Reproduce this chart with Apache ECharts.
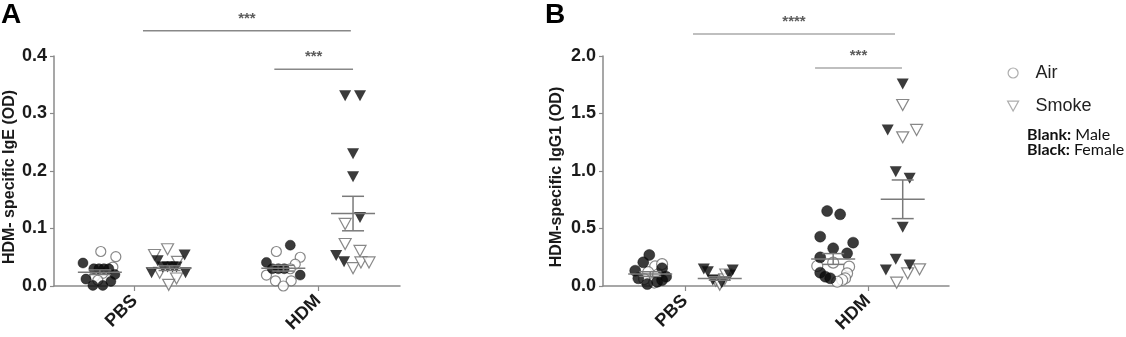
<!DOCTYPE html>
<html><head><meta charset="utf-8">
<script src="https://cdn.jsdelivr.net/npm/echarts@6/dist/echarts.min.js"></script>
<style>html,body{margin:0;padding:0;background:#fff}#c{width:1126px;height:337px}</style>
</head><body><div id="c"></div><script>
// ---------------- DATA ----------------
const categories = ['PBS', 'HDM'];
const treatments = ['Air', 'Smoke'];
// each point: [OD value, horizontal jitter within its column (x-axis units)]
// Panel A: HDM-specific IgE
const igePbsAirMale = [[0.060,0.005],[0.051,0.087],[0.033,0.071],[0.017,-0.027],[0.022,0.016],[0.010,-0.011]];
const igePbsAirFemale = [[0.040,-0.092],[0.030,-0.033],[0.030,-0.005],[0.030,0.022],[0.030,0.049],[0.012,-0.076],[0.020,0.082],[0.001,-0.038],[0.001,0.016],[0.008,0.060]];
const igePbsSmokeMale = [[0.054,-0.082],[0.064,-0.011],[0.042,0.043],[0.023,-0.054],[0.013,0.038],[0.002,-0.005]];
const igePbsSmokeFemale = [[0.054,0.082],[0.044,-0.065],[0.033,-0.038],[0.033,-0.011],[0.033,0.016],[0.033,0.038],[0.023,-0.098],[0.023,0.087]];
const igeHdmAirMale = [[0.060,-0.038],[0.050,0.092],[0.038,0.065],[0.030,0.038],[0.019,-0.092],[0.009,-0.043],[0.009,0.043],[0.000,0]];
const igeHdmAirFemale = [[0.071,0.038],[0.041,-0.092],[0.030,-0.060],[0.030,-0.027],[0.030,0.005],[0.019,0.092]];
const igeHdmSmokeMale = [[0.108,-0.043],[0.073,-0.043],[0.061,0.038],[0.031,0],[0.041,0.043],[0.041,0.087]];
const igeHdmSmokeFemale = [[0.331,-0.043],[0.331,0.038],[0.230,0],[0.190,0],[0.119,0.038],[0.053,-0.092],[0.042,-0.049]];
// mean and SEM: PBS-Air, PBS-Smoke, HDM-Air, HDM-Smoke
const igeMean = [0.024, 0.031, 0.031, 0.126];
const igeSem = [0.004, 0.004, 0.005, 0.030];
const igeTicks = [0, 0.1, 0.2, 0.3, 0.4];
// significance bars: [from x, to x, y, label]
const igeSig = [[1.045, 2.178, 0.444, '***'], [1.761, 2.19, 0.377, '***']];

// Panel B: HDM-specific IgG1
const iggPbsAirMale = [[0.170,0.027],[0.120,-0.011],[0.100,0.043],[0.060,-0.033],[0.030,0.022],[0.190,0.065]];
const iggPbsAirFemale = [[0.270,-0.005],[0.206,-0.038],[0.133,-0.082],[0.154,0.065],[0.067,-0.065],[0.017,-0.016],[0.037,0.038],[0.081,0.087],[0.052,0.065]];
const iggPbsSmokeMale = [[0.046,-0.022],[0.058,0.027],[0.012,0],[0.100,0.033]];
const iggPbsSmokeFemale = [[0.148,-0.087],[0.125,-0.065],[0.052,-0.038],[0.029,0.011],[0.139,0.071],[0.096,0.054]];
const iggHdmAirMale = [[0.174,-0.087],[0.203,0],[0.168,0.087],[0.110,0.076],[0.067,0.065],[0.052,0.049],[0.037,0.022]];
const iggHdmAirFemale = [[0.652,-0.033],[0.623,0.038],[0.429,-0.071],[0.328,0],[0.377,0.109],[0.249,-0.071],[0.284,0.076],[0.116,-0.071],[0.081,-0.043],[0.067,-0.016]];
const iggHdmSmokeMale = [[1.574,0],[1.293,0],[1.357,0.076],[0.110,0.027],[0.145,0.092],[0.029,-0.033]];
const iggHdmSmokeFemale = [[1.757,0],[1.357,-0.082],[0.994,-0.038],[0.936,0.038],[0.510,0],[0.232,-0.038],[0.139,-0.092],[0.183,0.038]];
const iggMean = [0.104, 0.065, 0.235, 0.754];
const iggSem = [0.020, 0.015, 0.047, 0.168];
const iggTicks = [0, 0.5, 1.0, 1.5, 2.0];
const iggSig = [[1.044, 2.148, 2.191, '****'], [1.711, 2.186, 1.896, '***']];

// ---------------- LAYOUT / STYLE ----------------
const FONT = '"Liberation Sans", Arial, sans-serif';
const H = 337, PT = 56, PB = 51;
const groupPos = [1, 2];
const treatOffset = {Air: -0.19, Smoke: 0.19};
const AXIS = '#8a8a8a';
const DOWN_TRI = 'path://M0,0 L10,0 L5,9 Z';

const panels = [
  {left: 54, right: 726, xmin: 0.56, xmax: 2.446, ticks: igeTicks, name: 'HDM- specific IgE (OD)', nameGap: 36,
   sig: igeSig, sigColor: '#888', mean: igeMean, sem: igeSem, circ: 10, tri: 12,
   sets: {Air: [[igePbsAirMale, igePbsAirFemale], [igeHdmAirMale, igeHdmAirFemale]],
          Smoke: [[igePbsSmokeMale, igePbsSmokeFemale], [igeHdmSmokeMale, igeHdmSmokeFemale]]}},
  {left: 603, right: 177, xmin: 0.552, xmax: 2.443, ticks: iggTicks, name: 'HDM-specific IgG1 (OD)', nameGap: 38,
   sig: iggSig, sigColor: '#aaa', mean: iggMean, sem: iggSem, circ: 11, tri: 12,
   sets: {Air: [[iggPbsAirMale, iggPbsAirFemale], [iggHdmAirMale, iggHdmAirFemale]],
          Smoke: [[iggPbsSmokeMale, iggPbsSmokeFemale], [iggHdmSmokeMale, iggHdmSmokeFemale]]}}
];

function pts(treat, sexIdx, sets) {
  const out = [];
  sets[treat].forEach((g, gi) => {
    g[sexIdx].forEach(([v, j]) => out.push([groupPos[gi] + treatOffset[treat] + j, v]));
  });
  return out;
}

function meanSemRender(params, api) {
  const x = api.value(0), m = api.value(1), s = api.value(2);
  const c = api.coord([x, m]);
  const up = api.coord([x, m + s]);
  const lo = api.coord([x, m - s]);
  const style = {stroke: '#7a7a7a', lineWidth: 1.5, fill: null};
  return {type: 'group', children: [
    {type: 'line', shape: {x1: c[0] - 22, y1: c[1], x2: c[0] + 22, y2: c[1]}, style},
    {type: 'line', shape: {x1: up[0], y1: up[1], x2: lo[0], y2: lo[1]}, style},
    {type: 'line', shape: {x1: up[0] - 11, y1: up[1], x2: up[0] + 11, y2: up[1]}, style},
    {type: 'line', shape: {x1: lo[0] - 11, y1: lo[1], x2: lo[0] + 11, y2: lo[1]}, style}
  ]};
}

const grid = [], xAxis = [], yAxis = [], series = [];
panels.forEach((p, i) => {
  const yMax = p.ticks[p.ticks.length - 1];
  grid.push({left: p.left, right: p.right, top: PT, bottom: PB});
  grid.push({left: p.left, right: p.right, top: 0, bottom: PB});
  xAxis.push({gridIndex: 2 * i, type: 'value', min: p.xmin, max: p.xmax,
    axisLine: {show: true, lineStyle: {color: AXIS, width: 1.5}},
    axisTick: {show: true, customValues: groupPos, length: 5, lineStyle: {color: AXIS, width: 1.2}},
    axisLabel: {show: true, customValues: groupPos, rotate: 45, margin: 12,
      formatter: v => categories[groupPos.indexOf(Math.round(v))] || '',
      fontFamily: FONT, fontWeight: 'bold', fontSize: 18, color: '#1a1a1a'},
    splitLine: {show: false}});
  xAxis.push({gridIndex: 2 * i + 1, type: 'value', min: p.xmin, max: p.xmax, show: false});
  yAxis.push({gridIndex: 2 * i, type: 'value', min: p.ticks[0], max: yMax, interval: p.ticks[1] - p.ticks[0],
    name: p.name, nameLocation: 'middle', nameGap: p.nameGap,
    nameTextStyle: {fontFamily: FONT, fontWeight: 'bold', fontSize: 16, color: '#1a1a1a', padding: [0, 12, 0, 0]},
    axisLine: {show: true, lineStyle: {color: AXIS, width: 1.5}},
    axisTick: {show: true, length: 4, lineStyle: {color: AXIS, width: 1.2}},
    axisLabel: {formatter: v => v.toFixed(1), margin: 7, fontFamily: FONT, fontWeight: 'bold', fontSize: 18, color: '#1a1a1a'},
    splitLine: {show: false}});
  yAxis.push({gridIndex: 2 * i + 1, type: 'value', min: 0, max: yMax * (H - PB) / (H - PB - PT), show: false});
  const xi = 2 * i, yi = 2 * i;
  // open (male) markers
  series.push({type: 'scatter', name: 'Air', xAxisIndex: xi, yAxisIndex: yi, data: pts('Air', 0, p.sets),
    symbol: 'circle', symbolSize: p.circ, itemStyle: {color: '#fff', borderColor: '#6a6a6a', borderWidth: 1.2}, z: 2});
  series.push({type: 'scatter', name: 'Smoke', xAxisIndex: xi, yAxisIndex: yi, data: pts('Smoke', 0, p.sets),
    symbol: 'triangle', symbolRotate: 180, symbolSize: [p.tri, p.tri - 1], itemStyle: {color: '#fff', borderColor: '#6a6a6a', borderWidth: 1.2}, z: 2});
  // filled (female) markers
  series.push({type: 'scatter', name: 'Air female', xAxisIndex: xi, yAxisIndex: yi, data: pts('Air', 1, p.sets),
    symbol: 'circle', symbolSize: p.circ, itemStyle: {color: '#0a0a0a', borderColor: '#000', borderWidth: 0.5}, z: 3});
  series.push({type: 'scatter', name: 'Smoke female', xAxisIndex: xi, yAxisIndex: yi, data: pts('Smoke', 1, p.sets),
    symbol: 'triangle', symbolRotate: 180, symbolSize: [p.tri, p.tri - 1], itemStyle: {color: '#0a0a0a'}, z: 3});
  // mean +/- SEM
  const ms = [];
  groupPos.forEach((g, gi) => treatments.forEach((t, ti) => {
    const k = gi * 2 + ti;
    ms.push([g + treatOffset[t], p.mean[k], p.sem[k]]);
  }));
  series.push({type: 'custom', name: 'meanSem', xAxisIndex: xi, yAxisIndex: yi, data: ms,
    encode: {x: 0, y: 1}, renderItem: meanSemRender, z: 4, silent: true});
  // significance bars
  p.sig.forEach(([a, b, y, lab]) => {
    series.push({type: 'line', xAxisIndex: xi + 1, yAxisIndex: yi + 1, data: [[a, y], [b, y]],
      symbol: 'none', lineStyle: {color: p.sigColor, width: 1.5}, silent: true, z: 1});
    series.push({type: 'scatter', xAxisIndex: xi + 1, yAxisIndex: yi + 1, data: [[(a + b) / 2, y]],
      symbolSize: 1, itemStyle: {color: 'rgba(0,0,0,0)'}, silent: true,
      label: {show: true, position: 'top', distance: 4, formatter: lab,
        fontFamily: FONT, fontSize: 15, fontWeight: 'bold', color: '#333'}});
  });
});

const option = {
  animation: false,
  backgroundColor: '#fff',
  title: [
    {text: 'A', left: 1, top: 1, padding: 0, textStyle: {fontFamily: FONT, fontWeight: 'bold', fontSize: 28, color: '#000'}},
    {text: 'B', left: 545, top: 1, padding: 0, textStyle: {fontFamily: FONT, fontWeight: 'bold', fontSize: 28, color: '#000'}},
    {text: '{b|Blank:} Male\n{b|Black:} Female', left: 1027, top: 127, padding: 0,
     textStyle: {fontFamily: 'Lato', fontSize: 16, fontWeight: 'normal', color: '#111', lineHeight: 15,
       rich: {b: {fontFamily: 'Lato', fontSize: 16, fontWeight: 'bold', color: '#111', lineHeight: 15}}}}
  ],
  legend: {data: [{name: 'Air', icon: 'circle'}, {name: 'Smoke', icon: DOWN_TRI}],
    orient: 'vertical', left: 1007, top: 64, itemWidth: 11, itemHeight: 10, itemGap: 15,
    selectedMode: false, padding: 0,
    itemStyle: {color: '#fff', borderColor: '#999', borderWidth: 1.2},
    textStyle: {fontFamily: FONT, fontSize: 18, color: '#222', padding: [0, 0, 0, 12]}},
  grid, xAxis, yAxis, series
};
const chart = echarts.init(document.getElementById('c'), null, {renderer: 'canvas'});
chart.setOption(option);
</script></body></html>
